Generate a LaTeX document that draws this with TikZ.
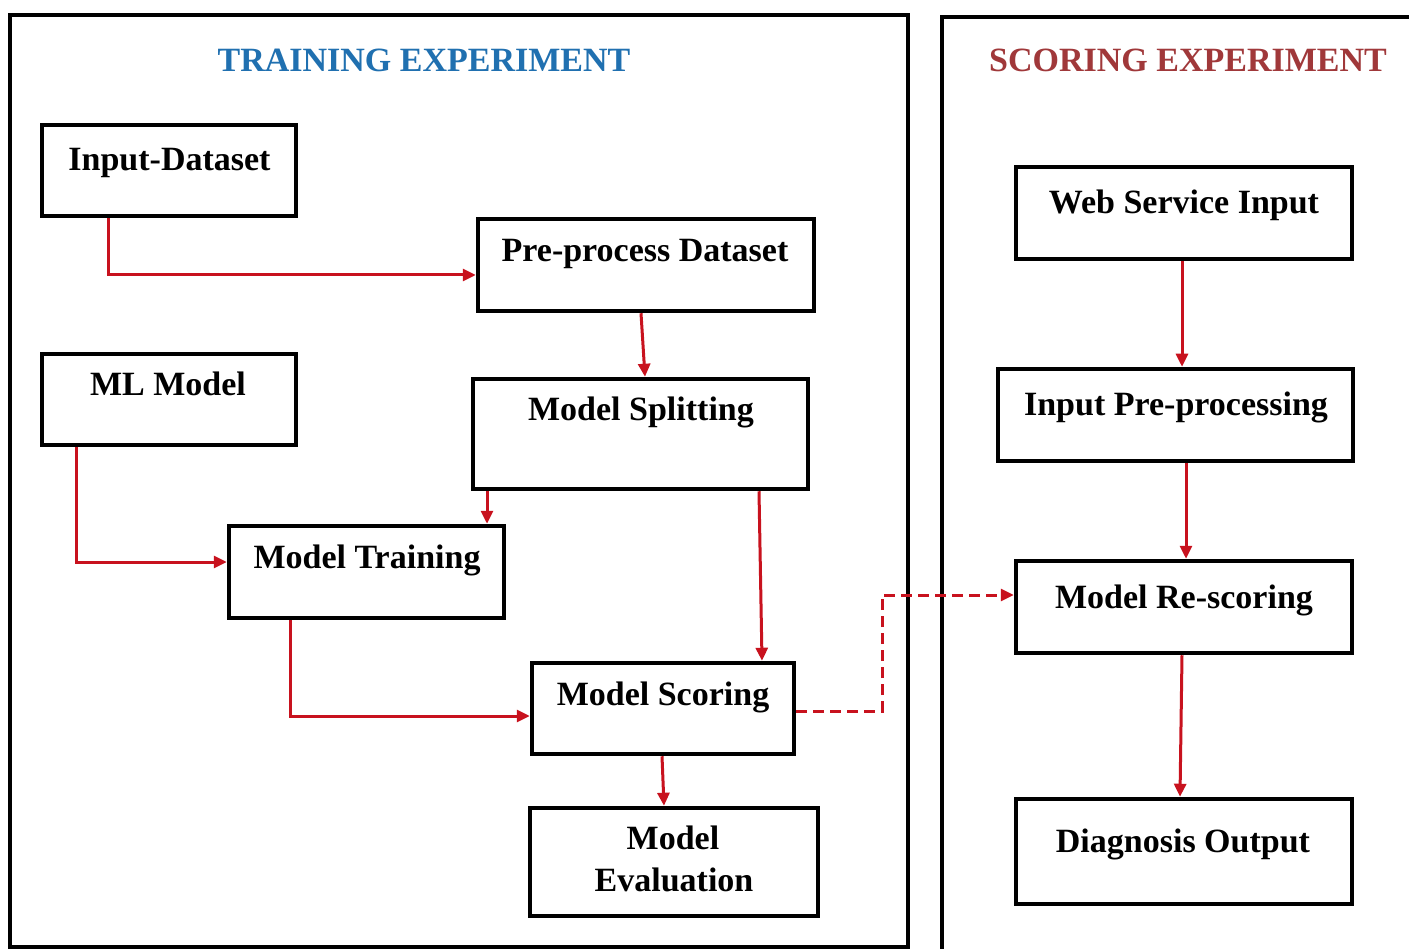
\documentclass[tikz,border=0pt]{standalone}
\usepackage{fontspec}
\setmainfont{Liberation Serif}
\usetikzlibrary{arrows.meta,calc}
\definecolor{flowred}{RGB}{200,18,30}
\definecolor{trainblue}{RGB}{32,112,176}
\definecolor{scorebrown}{RGB}{160,56,58}
\tikzset{
  stepbox/.style={draw=black,line width=4.5pt,rectangle,fill=white,inner sep=0pt},
  lbl/.style={anchor=base,font=\fontsize{34}{40}\selectfont\bfseries,inner sep=0pt},
  ttl/.style={lbl},
  arr/.style={draw=flowred,line width=3pt,-{Triangle[length=13pt,width=12pt]}},
  dasharr/.style={arr,dash pattern=on 11pt off 6pt}
}
\begin{document}
\begin{tikzpicture}[x=1pt,y=-1pt]
\useasboundingbox (0,0) rectangle (1409,949);
\fill[white] (0,0) rectangle (1409,949);

% experiment frames
\draw[line width=4.5pt] (10,15) rectangle (908,947);
\begin{scope}
\clip (0,0) rectangle (1409,949);
\draw[line width=4.5pt] (942,960) -- (942,17) -- (1420,17);
\end{scope}

% titles
\node[ttl,text=trainblue] (ttrain) at (424,72) {TRAINING EXPERIMENT};
\node[ttl,text=scorebrown] (tscore) at (1188,72) {SCORING EXPERIMENT};

% training boxes
\node[stepbox,minimum width=254pt,minimum height=91pt] (ids) at (169,170.5) {};
\node[stepbox,minimum width=336pt,minimum height=92pt] (pre) at (646,265) {};
\node[stepbox,minimum width=254pt,minimum height=91pt] (ml) at (169,399.5) {};
\node[stepbox,minimum width=335pt,minimum height=110pt] (spl) at (640.5,434) {};
\node[stepbox,minimum width=275pt,minimum height=92pt] (trn) at (366.5,572) {};
\node[stepbox,minimum width=262pt,minimum height=91pt] (scr) at (663,708.5) {};
\node[stepbox,minimum width=288pt,minimum height=108pt] (evl) at (674,862) {};

% scoring boxes
\node[stepbox,minimum width=336pt,minimum height=92pt] (web) at (1184,213) {};
\node[stepbox,minimum width=355pt,minimum height=92pt] (ipp) at (1175.5,415) {};
\node[stepbox,minimum width=336pt,minimum height=92pt] (res) at (1184,607) {};
\node[stepbox,minimum width=336pt,minimum height=105pt] (dia) at (1184,851.5) {};

% box labels
\node[lbl] (ids-t) at (169.5,171) {Input-Dataset};
\node[lbl] (pre-t) at (645,262) {Pre-process Dataset};
\node[lbl] (ml-t) at (168,396) {ML Model};
\node[lbl] (spl-t) at (641,421) {Model Splitting};
\node[lbl] (trn-t) at (367,568) {Model Training};
\node[lbl] (scr-t) at (663,705) {Model Scoring};
\node[lbl] (evl-t1) at (673,849) {Model};
\node[lbl] (evl-t2) at (674,891) {Evaluation};
\node[lbl] (web-t) at (1184,214) {Web Service Input};
\node[lbl] (ipp-t) at (1176,416) {Input Pre-processing};
\node[lbl] (res-t) at (1184,608) {Model Re-scoring};
\node[lbl] (dia-t) at (1183,852) {Diagnosis Output};

% training flow
\draw[arr] ([xshift=-61pt]ids.south) |- ([yshift=-10pt]pre.west);
\draw[arr] ([xshift=-5pt]pre.south) -- ([xshift=4.5pt]spl.north);
\draw[arr] ([xshift=-93pt]ml.south) |- ([yshift=10pt]trn.west);
\draw[arr] ([xshift=-153.5pt]spl.south) -- ([xshift=120.5pt]trn.north);
\draw[arr] ([xshift=118.5pt]spl.south) -- ([xshift=99pt]scr.north);
\draw[arr] ([xshift=-76.5pt]trn.south) |- ([yshift=-7.5pt]scr.west);
\draw[arr] ([xshift=-1pt]scr.south) -- ([xshift=-10pt]evl.north);

% hand-over to the scoring experiment
\draw[dasharr] ([yshift=-2.5pt]scr.east) -- ++(86,0) |- ([yshift=12pt]res.west);

% scoring flow
\draw[arr] ([xshift=-2pt]web.south) -- ([xshift=6.5pt]ipp.north);
\draw[arr] ([xshift=10.5pt]ipp.south) -- ([xshift=2pt]res.north);
\draw[arr] ([xshift=-2pt]res.south) -- ([xshift=-4pt]dia.north);
\end{tikzpicture}
\end{document}
